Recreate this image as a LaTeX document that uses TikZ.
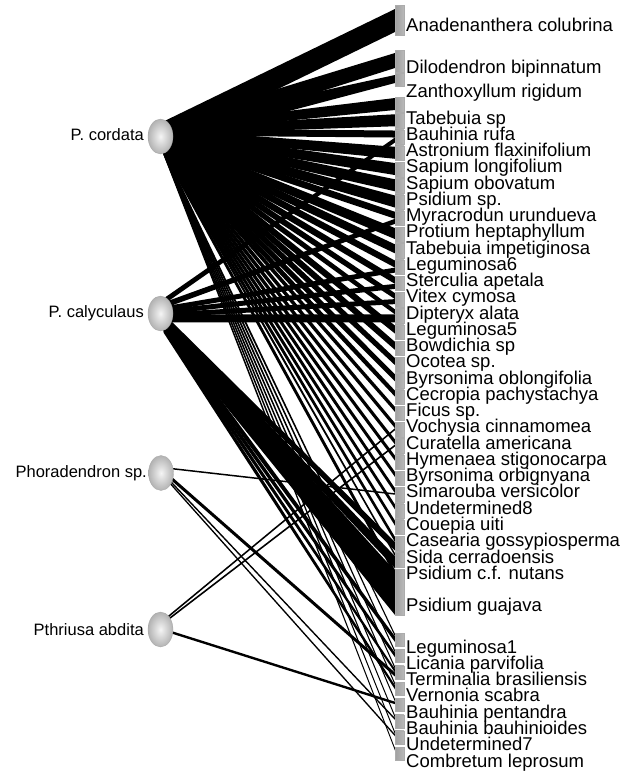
\documentclass[tikz,border=0pt]{standalone}
\usepackage{fontspec}
\setmainfont{Liberation Sans}
\usetikzlibrary{calc,shapes.geometric}
\tikzset{
  link/.style={fill=black},
  para/.style={ellipse, minimum width=25pt, minimum height=35pt, inner sep=0pt,
    shading=radial, inner color=gray!8, outer color=gray!60, draw=gray!70, line width=0.3pt},
  barbox/.style={rectangle, minimum width=9pt, inner sep=0pt, anchor=north west,
    left color=gray!75, middle color=gray!25, right color=gray!55, draw=gray!65, line width=0.3pt},
  plab/.style={anchor=base west, inner sep=0pt, font=\fontsize{18.5pt}{18.5pt}\selectfont},
  hlab/.style={anchor=base east, inner sep=0pt, font=\fontsize{16.5pt}{16.5pt}\selectfont}
}
% #1 parasite, #2 left start, #3 left step per unit; list: plant/right offset/right width/left width
\newcommand\fanout[4]{%
  \xdef\fCum{#2}%
  \foreach \pl/\ro/\w/\lw in {#4}{%
    \pgfmathsetmacro\fLa{\fCum}%
    \pgfmathsetmacro\fLb{\fCum+\lw}%
    \pgfmathsetmacro\fRb{\ro+\w}%
    \fill[link] ($(#1)+(3,\fLa)$) -- ($(\pl)+(0,\ro)$) -- ($(\pl)+(0,\fRb)$) -- ($(#1)+(3,\fLb)$) -- cycle;
    \pgfmathsetmacro\fNx{\fCum+#3*\w}%
    \xdef\fCum{\fNx}%
  }%
}
\newcommand\lk[6]{\fill[link] ($(#1)+(3,#2)$) -- ($(#4)+(0,#5)$) -- ($(#4)+(0,#6)$) -- ($(#1)+(3,#3)$) -- cycle;}
\begin{document}
\begin{tikzpicture}[x=1pt,y=-1pt]
\useasboundingbox (0,0) rectangle (632,776);
% parasite positions
\coordinate (p1) at (160.5,136.5);
\coordinate (p2) at (160.5,313.5);
\coordinate (p3) at (161,473);
\coordinate (p4) at (160.5,629.5);
% plant positions and labels
\foreach \j/\t/\bl/\txt in {1/5/31.7/Anadenanthera colubrina, 2/50/74/Dilodendron bipinnatum, 3/73/97/Zanthoxyllum rigidum, 33/569/611/Psidium guajava}{
  \coordinate (b\j) at (395,\t);
  \node[plab] (l\j) at (406,\bl) {\txt};
}
\foreach \j/\txt in {4/Tabebuia sp, 5/Bauhinia rufa, 6/Astronium flaxinifolium, 7/Sapium longifolium, 8/Sapium obovatum, 9/Psidium sp., 10/Myracrodun urundueva, 11/Protium heptaphyllum, 12/Tabebuia impetiginosa, 13/Leguminosa6, 14/Sterculia apetala, 15/Vitex cymosa, 16/Dipteryx alata, 17/Leguminosa5, 18/Bowdichia sp, 19/Ocotea sp., 20/Byrsonima oblongifolia, 21/Cecropia pachystachya, 22/Ficus sp., 23/Vochysia cinnamomea, 24/Curatella americana, 25/Hymenaea stigonocarpa, 26/Byrsonima orbignyana, 27/Simarouba versicolor, 28/Undetermined8, 29/Couepia uiti, 30/Casearia gossypiosperma, 31/Sida cerradoensis, 32/Psidium c.f. nutans}{
  \pgfmathsetmacro\t{97+(\j-4)*16.26}
  \pgfmathsetmacro\bl{124+(\j-4)*16.26}
  \coordinate (b\j) at (395,\t);
  \node[plab] (l\j) at (406,\bl) {\txt};
}
\foreach \j/\txt in {34/Leguminosa1, 35/Licania parvifolia, 36/Terminalia brasiliensis, 37/Vernonia scabra, 38/Bauhinia pentandra, 39/Bauhinia bauhinioides, 40/Undetermined7, 41/Combretum leprosum}{
  \pgfmathsetmacro\t{633+(\j-34)*16.3}
  \pgfmathsetmacro\bl{653+(\j-34)*16.3}
  \coordinate (b\j) at (395,\t);
  \node[plab] (l\j) at (406,\bl) {\txt};
}
% links of P. cordata
\fanout{p1}{-15}{0.1}{b1/4/23/23.3, b2/3/15/17.5, b3/2/8/19, b4/1/12/7, b5/1/12/7, b6/1/7/7, b7/1/12/7, b8/1/12/7, b9/1/12/7, b10/1/12/7, b11/1/7/7, b12/1/11/7, b13/1/9/8, b14/1/7/8, b15/1/7/8, b16/1/6/8, b17/1/5/8, b18/1/8/8, b19/1/8/8, b20/1/7/8, b21/1/7/8, b22/1/6/8, b23/1/5/6, b24/1/5/6, b25/1/5/6, b26/1/5/6, b27/1/5/6, b28/1/5/6, b29/1/5/6, b30/1/5/6, b31/1/5/6, b32/1/3/5, b33/1/6/6, b34/1/2.5/5, b35/1/2.5/5, b36/1/2.5/5, b37/1/2.5/5, b38/1/2.5/5, b39/1/2.5/5, b40/1/2.5/5, b41/1/2.5/5}
% links of P. calyculaus
\lk{p2}{-15}{-9}{b6}{8}{13}
\lk{p2}{-11}{-5}{b11}{8}{13}
\lk{p2}{-7}{-2}{b14}{8}{13}
\lk{p2}{-4}{1}{b15}{8}{13}
\lk{p2}{-1}{4}{b16}{7}{12}
\lk{p2}{1}{9}{b17}{6}{14}
\lk{p2}{0}{6}{b31}{6}{14.5}
\lk{p2}{1}{9}{b32}{4}{16}
\lk{p2}{2}{16}{b33}{2}{46}
\lk{p2}{8}{16}{b34}{3.5}{9}
\lk{p2}{10}{17}{b35}{3.5}{8}
\lk{p2}{11}{18}{b36}{3.5}{7}
\lk{p2}{12}{19}{b37}{3.5}{7.5}
% links of Phoradendron sp.
\lk{p3}{-6}{-4.5}{b28}{6}{7.5}
\lk{p3}{-3}{1}{b36}{7}{11}
\lk{p3}{0.5}{2.5}{b39}{3.5}{5.5}
\lk{p3}{2.5}{4.5}{b40}{3.5}{5.5}
% links of Pthriusa abdita
\lk{p4}{-10}{-8}{b24}{6}{8}
\lk{p4}{-7.5}{-5.5}{b25}{6}{8}
\lk{p4}{-1}{1.5}{b38}{3.5}{6}
% plant bars
\node[barbox, minimum height=30pt] (B1) at (b1) {};
\node[barbox, minimum height=22pt] (B2) at (b2) {};
\node[barbox, minimum height=13pt] (B3) at (b3) {};
\foreach \j in {4,...,32}{\node[barbox, minimum height=14.5pt] (B\j) at (b\j) {};}
\node[barbox, minimum height=46pt] (B33) at (b33) {};
\foreach \j in {34,...,41}{\node[barbox, minimum height=13pt] (B\j) at (b\j) {};}
% parasite nodes
\node[para] (P1) at (p1) {};
\node[para] (P2) at (p2) {};
\node[para] (P3) at (p3) {};
\node[para] (P4) at (p4) {};
\node[hlab] (h1) at (144,140) {P. cordata};
\node[hlab] (h2) at (144,317) {P. calyculaus};
\node[hlab] (h3) at (147,477) {Phoradendron sp.};
\node[hlab] (h4) at (144,635) {Pthriusa abdita};
\end{tikzpicture}
\end{document}
